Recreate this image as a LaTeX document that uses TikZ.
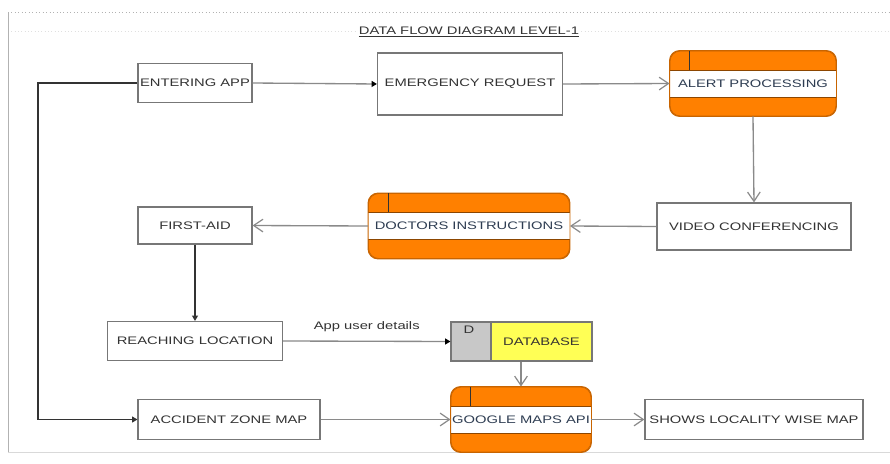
\documentclass[tikz,border=0pt]{standalone}
\usepackage{fontspec}
\setmainfont[FakeStretch=1.35]{Liberation Sans}
\usetikzlibrary{arrows.meta,calc}

\definecolor{procorange}{HTML}{FF8000}
\definecolor{procedge}{HTML}{C86400}
\definecolor{dbyellow}{HTML}{FFFF55}
\definecolor{dbgray}{HTML}{C8C8C8}
\definecolor{boxline}{HTML}{777777}
\definecolor{flowline}{HTML}{8A8A8A}
\definecolor{txt}{HTML}{333333}
\definecolor{proctxt}{HTML}{2E3D52}

\tikzset{
  lbl/.style={font=\fontsize{8.2}{10}\selectfont, text=txt},
  box/.style={draw=boxline, line width=0.9pt, fill=white, inner sep=0pt, lbl},
  sz/.style 2 args={minimum width=#1*0.75pt, minimum height=#2*0.75pt},
  procshape/.style={draw=procedge, line width=0.7pt, fill=procorange,
                    rounded corners=7.5pt, inner sep=0pt},
  openflow/.style={draw=flowline, line width=1pt,
                   -{Straight Barb[length=7pt,width=9.5pt,line width=0.9pt]}},
  solidflow/.style={draw=flowline, line width=1pt, -{Triangle[length=4pt,width=4.5pt,fill=black,color=black]}},
  darkflow/.style={draw=black!80, line width=0.8pt, -{Triangle[length=4pt,width=4.5pt]}},
}

% process symbol: orange rounded box with a white label band and an id mark
\newcommand\procbox[6]{% name, x, y, width, height, text
  \node[procshape, sz={#4}{#5}] (#1) at (#2,#3) {};
  \fill[white] ($(#1.west)+(0,-13.5)$) rectangle ($(#1.east)+(0,13.5)$);
  \draw[procedge!70!black, line width=0.4pt]
    ($(#1.west)+(0,-13.5)$) -- ($(#1.east)+(0,-13.5)$)
    ($(#1.west)+(0,13.5)$) -- ($(#1.east)+(0,13.5)$);
  \draw[procedge, line width=0.7pt, rounded corners=7.5pt]
    (#1.north west) rectangle (#1.south east);
  \draw[black!80, line width=0.7pt]
    ($(#1.north west)+(20,0)$) -- ($(#1.north west)+(20,-13.5+#5/2)$);
  \node[lbl, text=proctxt] at (#1) {#6};
}

\begin{document}
\begin{tikzpicture}[x=0.75pt,y=-0.75pt]
\useasboundingbox (0,0) rectangle (890,464);
\fill[white] (0,0) rectangle (890,464);

% sheet frame
\draw[black!30, line width=0.6pt, dotted] (8,12) -- (890,12);
\draw[black!12, line width=0.5pt, dotted] (8,31) -- (890,31);
\draw[black!30, line width=0.7pt] (8,12) -- (8,452);
\draw[black!15, line width=0.6pt] (8,452) -- (890,452);

% title
\node[lbl, fill=white, inner sep=1pt] (title) at (469,32)
  {\underline{DATA FLOW DIAGRAM LEVEL-1}};

% plain process boxes
\node[box, sz={114}{39}] (enter)    at (195,83)    {ENTERING APP};
\node[box, sz={185}{62}] (emerg)    at (470,84)    {EMERGENCY REQUEST};
\node[box, sz={194}{47}] (video)    at (754,226.5) {VIDEO CONFERENCING};
\node[box, sz={114}{37}] (firstaid) at (195,225.5) {FIRST-AID};
\node[box, sz={175}{39}] (reach)    at (195,341)   {REACHING LOCATION};
\node[box, sz={182}{40}] (accident) at (229,419.5) {ACCIDENT ZONE MAP};
\node[box, sz={218}{40}] (shows)    at (754,419.5) {SHOWS LOCALITY WISE MAP};

% orange processes
\procbox{alert}{753}{83.5}{166}{65}{ALERT PROCESSING}
\procbox{doctors}{469}{226}{201}{65}{DOCTORS INSTRUCTIONS}
\procbox{gmaps}{521}{419.5}{140}{65}{GOOGLE MAPS API}

% data store
\node[box, fill=dbgray, sz={40}{39}] (dbid) at (471,341.5) {};
\node[lbl, anchor=north, inner sep=0pt] (dbidtxt) at ($(dbid.north)+(-2,4)$) {D};
\node[box, fill=dbyellow, sz={101}{39}, text=black!75!yellow!40!black] (db) at (541.5,341.5) {DATABASE};

% flows
\draw[solidflow] (enter.east) -- (emerg.west);
\draw[openflow] (emerg.east) -- (alert.west);
\draw[openflow] (alert.south) -- (video.north);
\draw[openflow] (video.west) -- (doctors.east);
\draw[openflow] (doctors.west) -- (firstaid.east);
\draw[darkflow] (firstaid.south) -- (reach.north);
\draw[solidflow] (reach.east) -- node[lbl, above=3pt] {App user details} (dbid.west);
\draw[openflow] (db.south -| gmaps.north) -- (gmaps.north);
\coordinate (loopTop) at (38,83);
\coordinate (loopBot) at (38,419.5);
\draw[darkflow] (enter.west) -- (loopTop) -- (loopBot) -- (accident.west);
\draw[openflow] (accident.east) -- (gmaps.west);
\draw[openflow] (gmaps.east) -- (shows.west);
\end{tikzpicture}
\end{document}
